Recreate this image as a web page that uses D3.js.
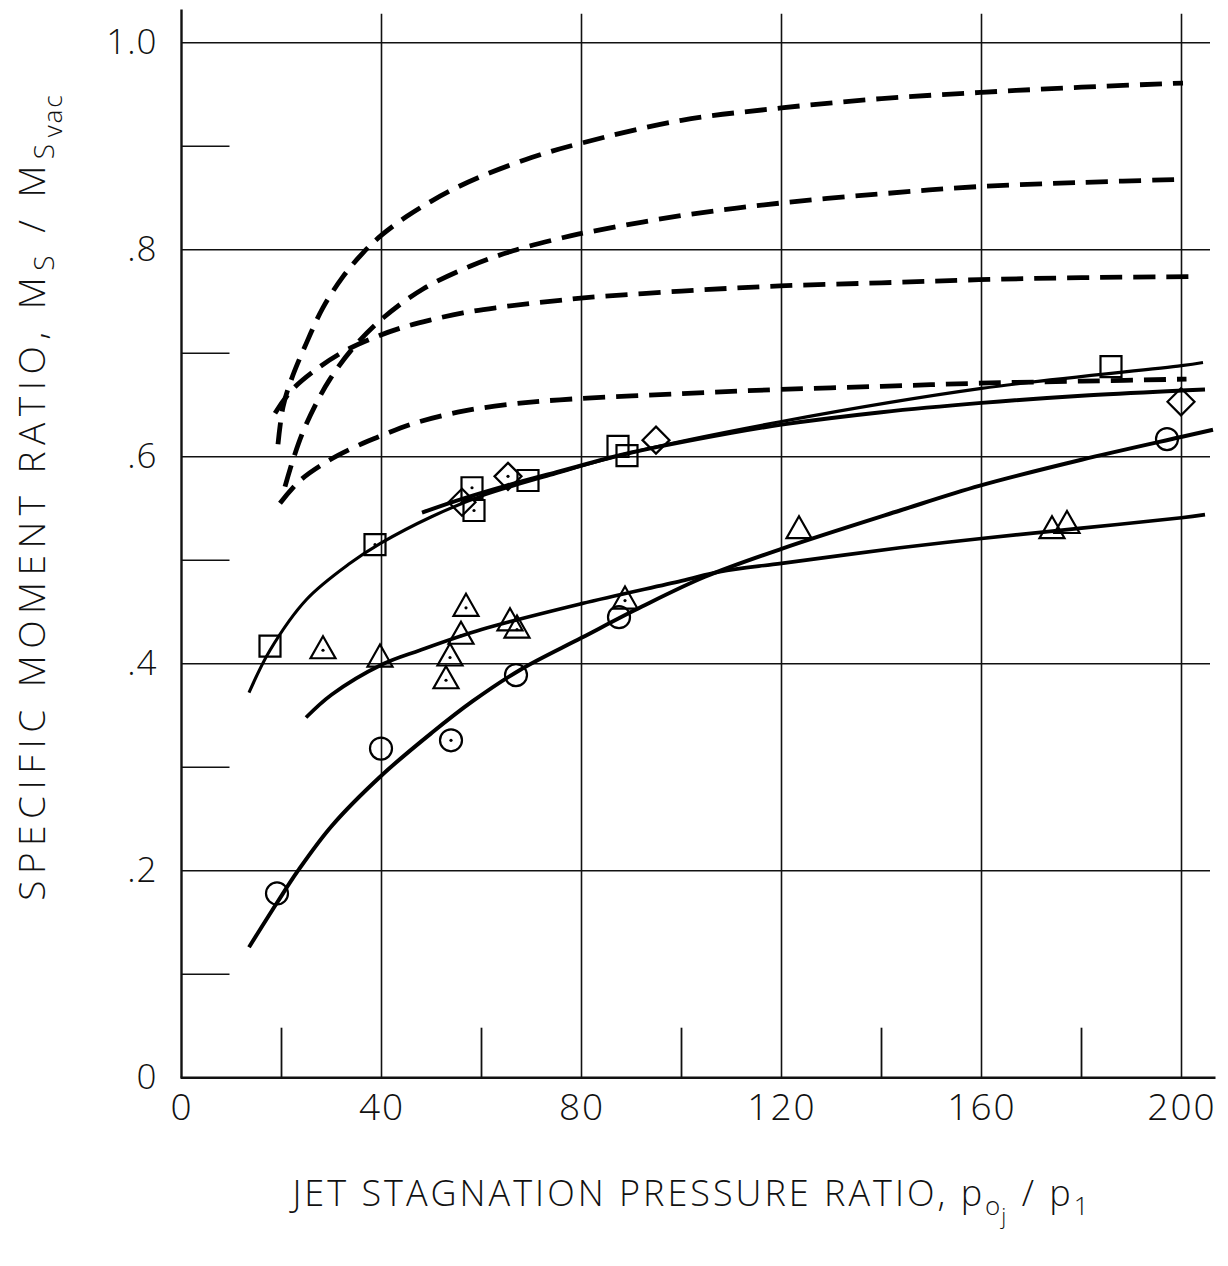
<!DOCTYPE html>
<html>
<head>
<meta charset="utf-8">
<script src="https://cdn.jsdelivr.net/npm/d3@7"></script>
<style>
  html, body { margin: 0; padding: 0; background: #fff; }
  svg { display: block; }
  text { font-family: "Open Sans", "DejaVu Sans", sans-serif; fill: #111; }
</style>
</head>
<body>
<svg id="chart" width="1228" height="1266"></svg>
<script>
// ---- measured data: specific moment ratio vs jet stagnation pressure ratio ----
const squareX = [17.7, 38.7, 58.1, 58.5, 69.3, 87.3, 89.1, 185.9];
const squareY = [0.417, 0.515, 0.570, 0.548, 0.577, 0.610, 0.601, 0.687];
const squareDot = [0, 1, 1, 1, 0, 0, 0, 0];

const diamondX = [56.1, 65.3, 94.9, 199.9];
const diamondY = [0.556, 0.581, 0.616, 0.653];
const diamondDot = [1, 1, 0, 0];

const triangleX = [28.3, 39.7, 52.9, 53.7, 55.9, 56.9, 65.7, 67.1, 88.7, 123.5, 174.1, 177.1];
const triangleY = [0.413, 0.405, 0.384, 0.406, 0.427, 0.454, 0.440, 0.433, 0.461, 0.529, 0.529, 0.534];
const triangleDot = [1, 0, 1, 1, 1, 1, 0, 1, 1, 0, 0, 0];

const circleX = [19.1, 39.9, 53.9, 66.9, 87.5, 197.1];
const circleY = [0.178, 0.318, 0.326, 0.389, 0.445, 0.617];
const circleDot = [0, 0, 1, 0, 0, 0];

// ---- faired curves through the data (solid) ----
const squareFitX = [13.5, 17.7, 25, 33.7, 39.7, 50, 60, 73.7, 90, 120, 160, 200, 204.3];
const squareFitY = [0.372, 0.413, 0.462, 0.497, 0.516, 0.542, 0.562, 0.582, 0.604, 0.634, 0.666, 0.688, 0.691];

const diamondFitX = [48.1, 56, 65, 75, 90, 110, 120, 140, 160, 180, 200, 204.7];
const diamondFitY = [0.546, 0.559, 0.572, 0.585, 0.604, 0.623, 0.631, 0.643, 0.652, 0.659, 0.664, 0.665];

const triangleFitX = [24.9, 30, 40, 47.7, 60, 80, 100, 107.7, 120, 143.7, 160, 180, 200, 204.7];
const triangleFitY = [0.348, 0.370, 0.399, 0.413, 0.433, 0.458, 0.480, 0.489, 0.497, 0.512, 0.521, 0.531, 0.541, 0.544];

const circleFitX = [13.5, 19.1, 23.3, 30, 40, 50, 58.3, 67.7, 80, 92, 104.7, 120, 143.7, 159.7, 180, 199.9, 206.3];
const circleFitY = [0.126, 0.169, 0.200, 0.243, 0.292, 0.333, 0.364, 0.394, 0.425, 0.455, 0.484, 0.511, 0.548, 0.572, 0.597, 0.619, 0.626];

// ---- theoretical curves (dashed) ----
const dash1X = [19.3, 20.3, 22, 25, 28.3, 32.3, 36.3, 40, 45, 50, 55, 60, 70, 80, 100, 120, 140, 160, 180, 200.3];
const dash1Y = [0.612, 0.648, 0.675, 0.710, 0.744, 0.774, 0.797, 0.814, 0.832, 0.847, 0.860, 0.871, 0.889, 0.903, 0.925, 0.937, 0.946, 0.952, 0.957, 0.961];

const dash2X = [20.7, 22.3, 24.3, 27, 29.7, 34.3, 40.3, 48.3, 57.7, 66.3, 75.7, 79.3, 100, 119.7, 140, 159.5, 180, 200.3];
const dash2Y = [0.571, 0.597, 0.624, 0.652, 0.675, 0.705, 0.734, 0.762, 0.784, 0.799, 0.811, 0.815, 0.833, 0.845, 0.854, 0.861, 0.865, 0.868];

const dash3X = [18.7, 22, 27.7, 33, 39, 44.3, 49.7, 56.3, 63, 69.7, 75.7, 79.3, 100, 119.7, 140, 159.5, 180, 202.3];
const dash3Y = [0.642, 0.664, 0.687, 0.703, 0.716, 0.725, 0.732, 0.739, 0.744, 0.748, 0.751, 0.753, 0.760, 0.765, 0.768, 0.771, 0.773, 0.774];

const dash4X = [19.7, 23.7, 29.7, 36.3, 39.3, 46.3, 56.3, 66.3, 75.7, 100, 119.7, 140, 159.7, 180, 201];
const dash4Y = [0.555, 0.577, 0.597, 0.613, 0.619, 0.632, 0.644, 0.651, 0.655, 0.661, 0.665, 0.668, 0.671, 0.673, 0.675];

// ---- axes ----
const xMajor = [0, 40, 80, 120, 160, 200];
const xMinor = [20, 60, 100, 140, 180];
const yMajor = [0, 0.2, 0.4, 0.6, 0.8, 1.0];
const yMinor = [0.1, 0.3, 0.5, 0.7, 0.9];
const yTickLabels = ["0", ".2", ".4", ".6", ".8", "1.0"];

const svg = d3.select("#chart");
const x = d3.scaleLinear().domain([0, 200]).range([181.5, 1181.5]);
const y = d3.scaleLinear().domain([0, 1]).range([1077.7, 42.7]);

const zip = (xs, ys) => xs.map((v, i) => [v, ys[i]]);
const line = d3.line().x(d => x(d[0])).y(d => y(d[1])).curve(d3.curveCatmullRom.alpha(0.5));

// grid
const grid = svg.append("g").attr("stroke", "#111").attr("fill", "none");
grid.selectAll("line.h").data(yMajor.filter(v => v > 0)).join("line")
  .attr("x1", x(0)).attr("x2", x(205.7))
  .attr("y1", d => y(d)).attr("y2", d => y(d))
  .attr("stroke-width", 1.6);
grid.selectAll("line.v").data(xMajor.filter(v => v > 0)).join("line")
  .attr("x1", d => x(d)).attr("x2", d => x(d))
  .attr("y1", y(1.028)).attr("y2", y(0))
  .attr("stroke-width", 1.6);
// minor ticks
grid.selectAll("line.ym").data(yMinor).join("line")
  .attr("x1", x(0)).attr("x2", x(0) + 48)
  .attr("y1", d => y(d)).attr("y2", d => y(d))
  .attr("stroke-width", 1.6);
grid.selectAll("line.xm").data(xMinor).join("line")
  .attr("x1", d => x(d)).attr("x2", d => x(d))
  .attr("y1", y(0)).attr("y2", y(0) - 50)
  .attr("stroke-width", 1.8);
// axis frame
grid.append("line").attr("x1", x(0)).attr("x2", x(0)).attr("y1", y(1.032)).attr("y2", y(0)).attr("stroke-width", 2.4);
grid.append("line").attr("x1", x(0) - 1).attr("x2", x(206.8)).attr("y1", y(0)).attr("y2", y(0)).attr("stroke-width", 2.6);

// tick labels through d3 axes
const yAxis = d3.axisLeft(y).tickValues(yMajor).tickSize(0).tickPadding(24)
  .tickFormat((d, i) => yTickLabels[i]);
const gy = svg.append("g").attr("transform", `translate(${x(0)},0)`).call(yAxis);
gy.select(".domain").remove();
gy.selectAll("text").attr("font-size", 35).attr("font-weight", 300).attr("letter-spacing", 1)
  .attr("font-family", "'Open Sans', 'DejaVu Sans', sans-serif").attr("fill", "#111");

const xAxis = d3.axisBottom(x).tickValues(xMajor).tickSize(0).tickPadding(16);
const gx = svg.append("g").attr("transform", `translate(0,${y(0)})`).call(xAxis);
gx.select(".domain").remove();
gx.selectAll("text").attr("font-size", 37).attr("font-weight", 300).attr("letter-spacing", 2)
  .attr("font-family", "'Open Sans', 'DejaVu Sans', sans-serif").attr("fill", "#111");

// curves
const curves = svg.append("g").attr("fill", "none").attr("stroke", "#000");
[[dash1X, dash1Y], [dash2X, dash2Y], [dash3X, dash3Y], [dash4X, dash4Y]].forEach(([xs, ys]) => {
  curves.append("path").attr("d", line(zip(xs, ys)))
    .attr("stroke-width", 4.8).attr("stroke-dasharray", "22 11");
});
curves.append("path").attr("d", line(zip(squareFitX, squareFitY))).attr("stroke-width", 3.1);
curves.append("path").attr("d", line(zip(diamondFitX, diamondFitY))).attr("stroke-width", 4);
curves.append("path").attr("d", line(zip(triangleFitX, triangleFitY))).attr("stroke-width", 3.7);
curves.append("path").attr("d", line(zip(circleFitX, circleFitY))).attr("stroke-width", 4);

// symbols
const marks = svg.append("g").attr("fill", "none").attr("stroke", "#000").attr("stroke-width", 2.2);
function drawMarks(xs, ys, dots, shape) {
  const pts = zip(xs, ys).map((p, i) => ({ x: x(p[0]), y: y(p[1]), dot: dots[i] }));
  const g = marks.append("g");
  pts.forEach(p => {
    let d;
    if (shape === "square") {
      const h = 10.5;
      d = `M${p.x - h},${p.y - h}H${p.x + h}V${p.y + h}H${p.x - h}Z`;
    } else if (shape === "diamond") {
      const h = 13.5;
      d = `M${p.x},${p.y - h}L${p.x + h},${p.y}L${p.x},${p.y + h}L${p.x - h},${p.y}Z`;
    } else if (shape === "triangle") {
      const w = 12.5, top = 14, bot = 8;
      d = `M${p.x},${p.y - top}L${p.x + w},${p.y + bot}L${p.x - w},${p.y + bot}Z`;
    }
    if (shape === "circle") {
      g.append("circle").attr("cx", p.x).attr("cy", p.y).attr("r", 11);
    } else {
      g.append("path").attr("d", d);
    }
    if (p.dot) {
      g.append("circle").attr("cx", p.x).attr("cy", p.y).attr("r", 1.6)
        .attr("fill", "#000").attr("stroke", "none");
    }
  });
}
drawMarks(squareX, squareY, squareDot, "square");
drawMarks(diamondX, diamondY, diamondDot, "diamond");
drawMarks(triangleX, triangleY, triangleDot, "triangle");
drawMarks(circleX, circleY, circleDot, "circle");

// axis titles
const xt = svg.append("text").attr("x", 692).attr("y", 1206)
  .attr("text-anchor", "middle").attr("font-size", 36).attr("font-weight", 300)
  .attr("letter-spacing", 3);
xt.append("tspan").text("JET STAGNATION PRESSURE RATIO, p");
xt.append("tspan").attr("font-size", 26).attr("dy", 9).attr("letter-spacing", 1).text("o");
xt.append("tspan").attr("font-size", 22).attr("dy", 9).text("j");
xt.append("tspan").attr("dy", -18).text(" / p");
xt.append("tspan").attr("font-size", 26).attr("dy", 9).text("1");

const yt = svg.append("text")
  .attr("transform", "translate(45,497) rotate(-90)")
  .attr("text-anchor", "middle").attr("font-size", 37).attr("font-weight", 300)
  .attr("letter-spacing", 6.5);
yt.append("tspan").text("SPECIFIC MOMENT RATIO, M");
yt.append("tspan").attr("font-size", 28).attr("dy", 9).text("S");
yt.append("tspan").attr("dy", -9).text(" / M");
yt.append("tspan").attr("font-size", 28).attr("dy", 9).text("S");
yt.append("tspan").attr("font-size", 26).attr("dy", 8).attr("letter-spacing", 2).text("vac");
</script>
</body>
</html>
